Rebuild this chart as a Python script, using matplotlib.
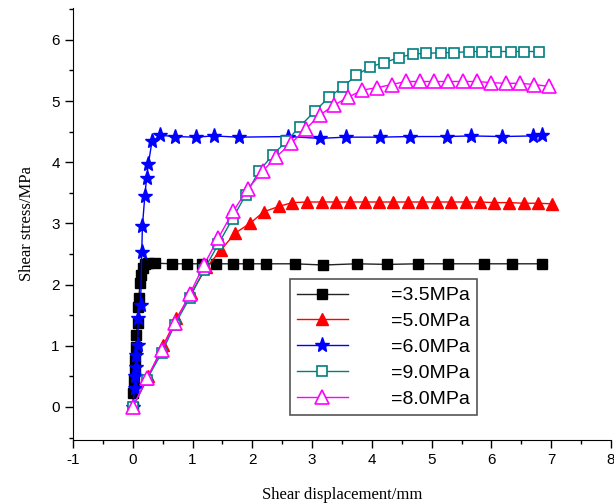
import matplotlib
matplotlib.use("Agg")
import matplotlib.pyplot as plt
from matplotlib.ticker import MultipleLocator

plt.rcParams["axes.unicode_minus"] = False

# ---- data ----
labels = ["=3.5MPa", "=5.0MPa", "=6.0MPa", "=9.0MPa", "=8.0MPa"]

x35 = [0, 0.01, 0.02, 0.03, 0.04, 0.05, 0.06, 0.08, 0.09, 0.10, 0.12, 0.14, 0.17, 0.20, 0.26,
       0.37, 0.65, 0.90, 1.15, 1.40, 1.67, 1.92, 2.22, 2.71, 3.19, 3.75, 4.26, 4.77, 5.28, 5.87, 6.35, 6.84]
y35 = [0, 0.22, 0.44, 0.60, 0.77, 0.98, 1.18, 1.37, 1.64, 1.78, 2.02, 2.15, 2.27, 2.33, 2.35,
       2.35, 2.34, 2.34, 2.34, 2.34, 2.34, 2.34, 2.34, 2.34, 2.32, 2.34, 2.33, 2.34, 2.34, 2.34, 2.34, 2.34]

x50 = [0, 0.26, 0.51, 0.73, 0.98, 1.23, 1.48, 1.71, 1.96, 2.19, 2.45, 2.67, 2.91, 3.16, 3.40,
       3.64, 3.88, 4.12, 4.36, 4.60, 4.84, 5.09, 5.33, 5.57, 5.81, 6.05, 6.29, 6.54, 6.78, 7.02]
y50 = [0, 0.50, 1.01, 1.45, 1.86, 2.28, 2.57, 2.84, 3.00, 3.19, 3.28, 3.34, 3.35, 3.35, 3.35,
       3.35, 3.35, 3.35, 3.35, 3.35, 3.35, 3.35, 3.35, 3.35, 3.35, 3.34, 3.34, 3.33, 3.33, 3.32]

x60 = [0, 0.03, 0.04, 0.05, 0.06, 0.08, 0.09, 0.13, 0.15, 0.16, 0.20, 0.23, 0.26, 0.32, 0.46,
       0.70, 1.05, 1.35, 1.77, 2.60, 3.13, 3.57, 4.14, 4.63, 5.25, 5.66, 6.18, 6.69, 6.85]
y60 = [0, 0.31, 0.50, 0.66, 0.85, 1.01, 1.45, 1.67, 2.54, 2.95, 3.44, 3.74, 3.97, 4.34, 4.44,
       4.42, 4.41, 4.43, 4.41, 4.42, 4.39, 4.41, 4.41, 4.42, 4.42, 4.43, 4.42, 4.43, 4.44]

x90 = [0, 0.23, 0.48, 0.70, 0.95, 1.19, 1.43, 1.67, 1.89, 2.11, 2.34, 2.57, 2.79, 3.04, 3.28,
       3.51, 3.74, 3.97, 4.21, 4.45, 4.69, 4.91, 5.15, 5.38, 5.62, 5.85, 6.08, 6.32, 6.55, 6.79]
y90 = [0, 0.44, 0.88, 1.34, 1.78, 2.24, 2.66, 3.08, 3.47, 3.85, 4.12, 4.34, 4.58, 4.83, 5.06,
       5.23, 5.42, 5.56, 5.63, 5.71, 5.77, 5.78, 5.79, 5.79, 5.81, 5.81, 5.81, 5.81, 5.81, 5.81]

x80 = [0, 0.24, 0.48, 0.71, 0.95, 1.19, 1.43, 1.68, 1.93, 2.17, 2.40, 2.65, 2.89, 3.13, 3.36,
       3.60, 3.84, 4.09, 4.33, 4.57, 4.80, 5.04, 5.28, 5.52, 5.76, 6.00, 6.25, 6.48, 6.72, 6.96]
y80 = [0, 0.48, 0.93, 1.38, 1.84, 2.32, 2.76, 3.20, 3.57, 3.85, 4.09, 4.31, 4.54, 4.77, 4.93,
       5.06, 5.18, 5.22, 5.27, 5.32, 5.32, 5.32, 5.32, 5.32, 5.32, 5.30, 5.29, 5.29, 5.27, 5.24]

fig = plt.figure(figsize=(6.14, 5.04), dpi=100)
ax = fig.add_axes([0.119, 0.127, 0.876, 0.857])

ax.plot(x35, y35, color="#222222", lw=1, marker="s", ms=6.5, mfc="black", mec="black", label=labels[0])
ax.plot(x50, y50, color="red", lw=1, marker="^", ms=9, mfc="red", mec="red", label=labels[1])
ax.plot(x60, y60, color="blue", lw=1, marker="*", ms=11, mfc="blue", mec="blue", label=labels[2])
ax.plot(x90, y90, color="#007F7F", lw=1, marker="s", ms=7, mfc="white", mec="#007F7F", mew=1.2, label=labels[3])
ax.plot(x80, y80, color="magenta", lw=1, marker="^", ms=10, mfc="white", mec="magenta", mew=1.2, label=labels[4])

ax.set_xlim(-1, 8)
ax.set_ylim(-0.54, 6.52)
ax.xaxis.set_major_locator(MultipleLocator(1))
ax.xaxis.set_minor_locator(MultipleLocator(0.5))
ax.yaxis.set_major_locator(MultipleLocator(1))
ax.yaxis.set_minor_locator(MultipleLocator(0.5))
for s in ["top", "right"]:
    ax.spines[s].set_visible(False)
ax.tick_params(which="major", direction="out", length=6, width=1, labelsize=11)
ax.tick_params(which="minor", direction="out", length=3, width=1)
for lab in ax.get_xticklabels() + ax.get_yticklabels():
    lab.set_family("Liberation Sans")

ax.set_xlabel("Shear displacement/mm", family="Liberation Serif", fontsize=12, labelpad=14)
ax.set_ylabel("Shear stress/MPa", family="Liberation Serif", fontsize=12, labelpad=12)

leg = ax.legend(loc="lower left", bbox_to_anchor=(0.403, 0.058), fancybox=False, frameon=True,
                edgecolor="#555555", framealpha=1, prop={"family": "Liberation Sans", "size": 14},
                handlelength=2.6, handletextpad=2.2, labelspacing=0.42, borderpad=0.38,
                borderaxespad=0.0)
leg.get_frame().set_linewidth(1.2)

fig.savefig("out.png", dpi=100)
